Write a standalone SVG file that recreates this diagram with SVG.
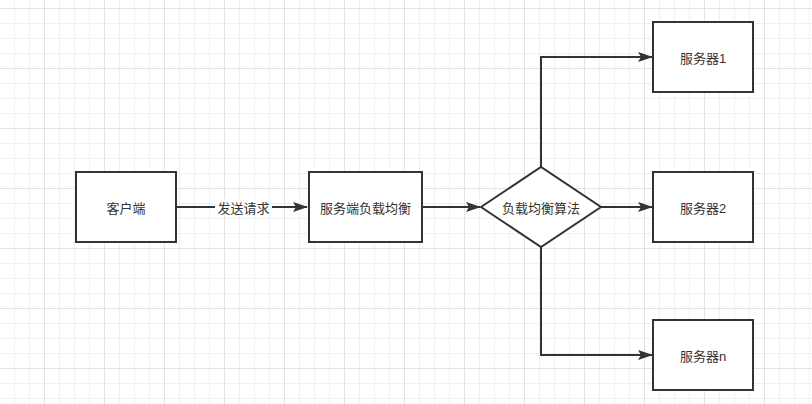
<svg xmlns="http://www.w3.org/2000/svg" width="812" height="404" viewBox="0 0 812 404">
  <defs>
    <pattern id="minor" patternUnits="userSpaceOnUse" x="14" y="8" width="15" height="15">
      <rect x="0" y="0" width="1" height="15" fill="#f0f0f0"/>
      <rect x="0" y="0" width="15" height="1" fill="#f0f0f0"/>
    </pattern>
    <pattern id="major" patternUnits="userSpaceOnUse" x="44" y="8" width="60" height="60">
      <rect x="0" y="0" width="1" height="60" fill="#e2e2e2"/>
      <rect x="0" y="0" width="60" height="1" fill="#e2e2e2"/>
    </pattern>
    <marker id="arrow" viewBox="0 0 15 10" refX="14" refY="5" markerWidth="15" markerHeight="10" markerUnits="userSpaceOnUse" orient="auto">
      <path d="M0,0 L15,5 L0,10 L3,5 Z" fill="#333333"/>
    </marker>
  </defs>
  <style>
    .box { fill: #ffffff; stroke: #333333; stroke-width: 2; }
    .edge { fill: none; stroke: #333333; stroke-width: 2; }
    .label { font-family: "Liberation Sans", "Noto Sans CJK SC", sans-serif; font-size: 13px; fill: #333333; text-anchor: middle; }
  </style>
  <rect x="0" y="0" width="812" height="404" fill="#ffffff"/>
  <rect x="0" y="0" width="812" height="404" fill="url(#minor)"/>
  <rect x="0" y="0" width="812" height="404" fill="url(#major)"/>

  <g id="connectors">
    <g id="edge-client-lb">
      <path class="edge" d="M176,207 L307,207" marker-end="url(#arrow)"/>
      <rect x="215" y="199" width="57" height="16" fill="#ffffff"/>
      <text class="label" x="243.5" y="212.5">发送请求</text>
    </g>
    <path id="edge-lb-algo" class="edge" d="M422,207 L480,207" marker-end="url(#arrow)"/>
    <path id="edge-algo-s1" class="edge" d="M541,167 L541,57 L652,57" marker-end="url(#arrow)"/>
    <path id="edge-algo-s2" class="edge" d="M601,207 L652,207" marker-end="url(#arrow)"/>
    <path id="edge-algo-sn" class="edge" d="M541,247 L541,355 L652,355" marker-end="url(#arrow)"/>
  </g>

  <g id="client">
    <rect class="box" x="76" y="172" width="100" height="70"/>
    <text class="label" x="126" y="212.5">客户端</text>
  </g>
  <g id="lb">
    <rect class="box" x="309" y="172" width="113" height="70"/>
    <text class="label" x="365.5" y="212.5">服务端负载均衡</text>
  </g>
  <g id="algo">
    <polygon class="box" points="481,207 541,167 601,207 541,247"/>
    <text class="label" x="541" y="212.5">负载均衡算法</text>
  </g>
  <g id="server1">
    <rect class="box" x="653" y="22" width="100" height="70"/>
    <text class="label" x="703" y="63">服务器1</text>
  </g>
  <g id="server2">
    <rect class="box" x="653" y="172" width="100" height="70"/>
    <text class="label" x="703" y="212.5">服务器2</text>
  </g>
  <g id="servern">
    <rect class="box" x="653" y="320" width="100" height="70"/>
    <text class="label" x="703" y="361">服务器n</text>
  </g>
</svg>
